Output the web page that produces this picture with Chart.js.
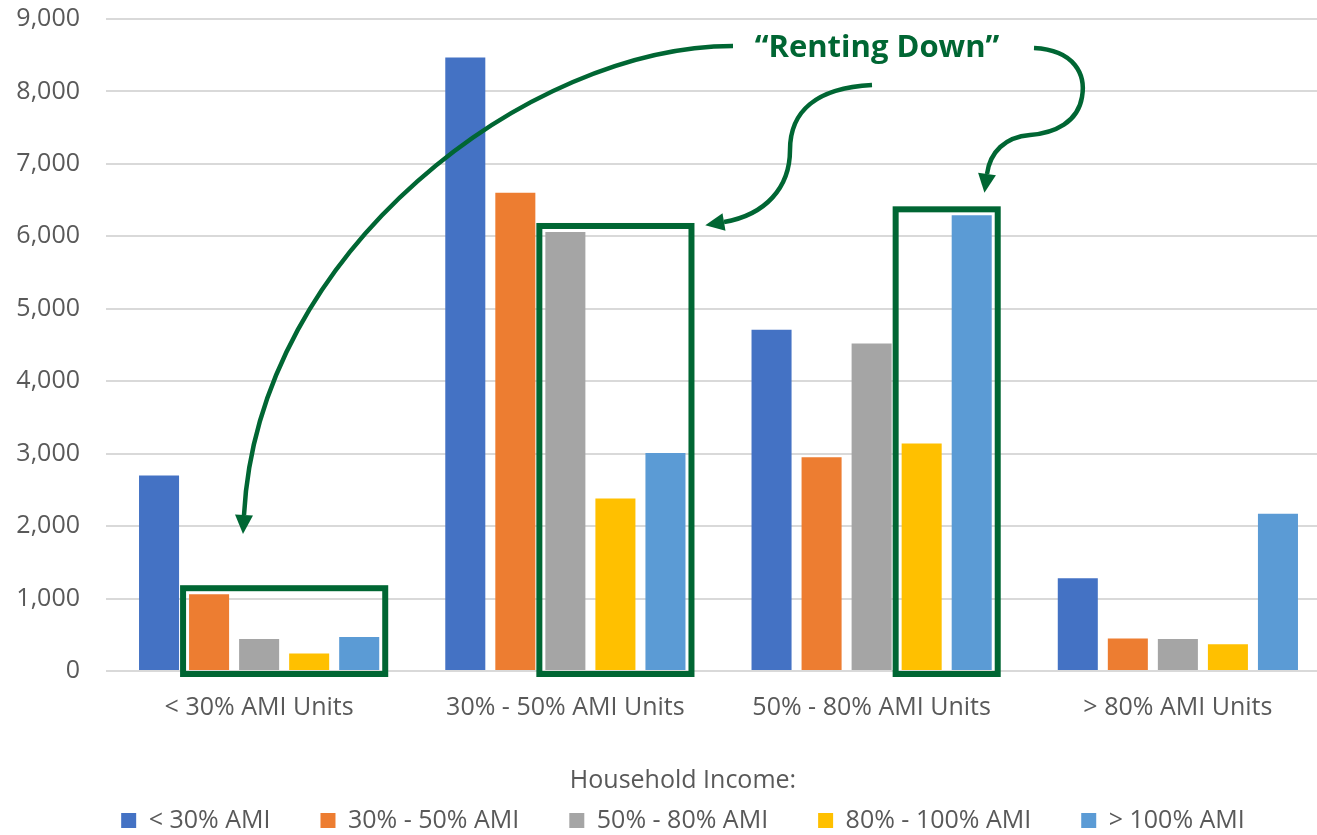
<!DOCTYPE html>
<html>
<head>
<meta charset="utf-8">
<script src="https://cdn.jsdelivr.net/npm/chart.js@4.4.1/dist/chart.umd.min.js"></script>
<style>
  html, body { margin: 0; padding: 0; background: #fff; }
  #wrap { width: 1317px; height: 835px; overflow: hidden; position: relative; }
  #grafico { display: block; }
</style>
</head>
<body>
<div id="wrap">
  <canvas id="grafico" width="1366" height="843"></canvas>
</div>
<script>
// Categorias (tipo de unidade) e faixas de renda das famílias
var categorias = ['< 30% AMI Units', '30% - 50% AMI Units', '50% - 80% AMI Units', '> 80% AMI Units'];
var faixasRenda = ['< 30% AMI', '30% - 50% AMI', '50% - 80% AMI', '80% - 100% AMI', '> 100% AMI'];

// Número de domicílios por faixa de renda em cada tipo de unidade
var rendaAte30 = [2700, 8470, 4710, 1280];
var renda30a50 = [1060, 6600, 2950, 450];
var renda50a80 = [440, 6060, 4520, 440];
var renda80a100 = [240, 2380, 3140, 370];
var rendaAcima100 = [470, 3010, 6290, 2170];

var ticksY = [0, 1000, 2000, 3000, 4000, 5000, 6000, 7000, 8000, 9000];

var cores = ['#4472C4', '#ED7D31', '#A5A5A5', '#FFC000', '#5B9BD5'];
var verde = '#006633';

// Caixas "Renting Down": categoria e primeira série destacada (até a última)
var caixasDestaque = [
    { categoria: 0, primeiraSerie: 1 },
    { categoria: 1, primeiraSerie: 2 },
    { categoria: 2, primeiraSerie: 3 }
];

// Setas curvas ligando o texto às caixas
var setas = [
    [[733, 46], [530, 46], [258, 250], [244, 515]],
    [[872, 85], [815, 88], [790, 112], [790, 150], [790, 188], [765, 215], [724, 222]],
    [[1034, 48], [1075, 50], [1086, 75], [1082, 97], [1078, 122], [1055, 133], [1030, 135], [1005, 137], [990, 152], [987, 174]]
];

function desenharSeta(ctx, pts) {
    ctx.beginPath();
    ctx.moveTo(pts[0][0], pts[0][1]);
    for (var i = 1; i + 2 < pts.length; i += 3) {
        ctx.bezierCurveTo(pts[i][0], pts[i][1], pts[i + 1][0], pts[i + 1][1], pts[i + 2][0], pts[i + 2][1]);
    }
    ctx.stroke();

    // ponta da seta
    var fim = pts[pts.length - 1];
    var ant = pts[pts.length - 2];
    var ang = Math.atan2(fim[1] - ant[1], fim[0] - ant[0]);
    var comp = 19, meia = 9;
    var tx = fim[0] + Math.cos(ang) * comp;
    var ty = fim[1] + Math.sin(ang) * comp;
    ctx.beginPath();
    ctx.moveTo(tx, ty);
    ctx.lineTo(fim[0] + Math.cos(ang + Math.PI / 2) * meia, fim[1] + Math.sin(ang + Math.PI / 2) * meia);
    ctx.lineTo(fim[0] + Math.cos(ang - Math.PI / 2) * meia, fim[1] + Math.sin(ang - Math.PI / 2) * meia);
    ctx.closePath();
    ctx.fill();
}

var pluginAnotacoes = {
    id: 'anotacoes',
    afterDatasetsDraw: function (chart) {
        var ctx = chart.ctx;
        var ultima = chart.data.datasets.length - 1;
        var base = chart.scales.y.getPixelForValue(0);
        ctx.save();
        ctx.strokeStyle = verde;
        ctx.fillStyle = verde;

        // caixas em volta das barras
        ctx.lineWidth = 6;
        caixasDestaque.forEach(function (cx) {
            var barraIni = chart.getDatasetMeta(cx.primeiraSerie).data[cx.categoria];
            var barraFim = chart.getDatasetMeta(ultima).data[cx.categoria];
            var topo = base;
            for (var s = cx.primeiraSerie; s <= ultima; s++) {
                topo = Math.min(topo, chart.getDatasetMeta(s).data[cx.categoria].y);
            }
            var esq = barraIni.x - barraIni.width / 2 - 6;
            var dir = barraFim.x + barraFim.width / 2 + 6;
            var cima = topo - 6;
            var baixo = base + 3;
            ctx.strokeRect(esq, cima, dir - esq, baixo - cima);
        });

        // setas
        ctx.lineWidth = 4.5;
        setas.forEach(function (s) { desenharSeta(ctx, s); });

        // texto
        ctx.font = 'bold 31px "Open Sans"';
        ctx.textAlign = 'center';
        ctx.textBaseline = 'middle';
        ctx.fillText('\u201CRenting Down\u201D', 877, 48);
        ctx.restore();
    }
};

Chart.defaults.font.family = '"Open Sans", sans-serif';
Chart.defaults.color = '#595959';

function criarGrafico() {
    var ctx = document.getElementById('grafico').getContext('2d');
    var series = [rendaAte30, renda30a50, renda50a80, renda80a100, rendaAcima100];

    new Chart(ctx, {
        type: 'bar',
        data: {
            labels: categorias,
            datasets: series.map(function (valores, i) {
                return {
                    label: faixasRenda[i],
                    data: valores,
                    backgroundColor: cores[i],
                    borderWidth: 0,
                    categoryPercentage: 0.817,
                    barPercentage: 0.8
                };
            })
        },
        options: {
            responsive: false,
            animation: false,
            layout: { padding: { top: 19, left: 0, right: 0, bottom: 0 } },
            plugins: {
                tooltip: { enabled: false },
                legend: {
                    position: 'bottom',
                    labels: {
                        boxWidth: 15,
                        boxHeight: 15,
                        padding: 50,
                        color: '#595959',
                        font: { size: 25 }
                    },
                    title: {
                        display: true,
                        text: 'Household Income:',
                        color: '#595959',
                        font: { size: 25 },
                        padding: { top: 45, bottom: -40 }
                    }
                }
            },
            scales: {
                x: {
                    grid: { display: false, drawTicks: false },
                    border: { display: false },
                    ticks: { padding: 22, font: { size: 25 }, color: '#595959' },
                    afterFit: function (s) { s.height = 52; }
                },
                y: {
                    min: 0,
                    max: 9000,
                    afterBuildTicks: function (s) { s.ticks = ticksY.map(function (v) { return { value: v }; }); },
                    grid: { color: '#d9d9d9', lineWidth: 2, drawTicks: false },
                    border: { display: false },
                    ticks: { padding: 26, font: { size: 25 }, color: '#595959' },
                    afterFit: function (s) {
                        s.width = 106;
                        s.paddingTop = 0;
                        s.paddingBottom = 0;
                    }
                },
                margemDireita: {
                    type: 'linear',
                    position: 'right',
                    display: true,
                    grid: { display: false, drawTicks: false },
                    border: { display: false },
                    ticks: { display: false },
                    afterFit: function (s) {
                        s.width = 35;
                        s.paddingTop = 0;
                        s.paddingBottom = 0;
                    }
                }
            }
        },
        plugins: [pluginAnotacoes]
    });
}

criarGrafico();
</script>
</body>
</html>
